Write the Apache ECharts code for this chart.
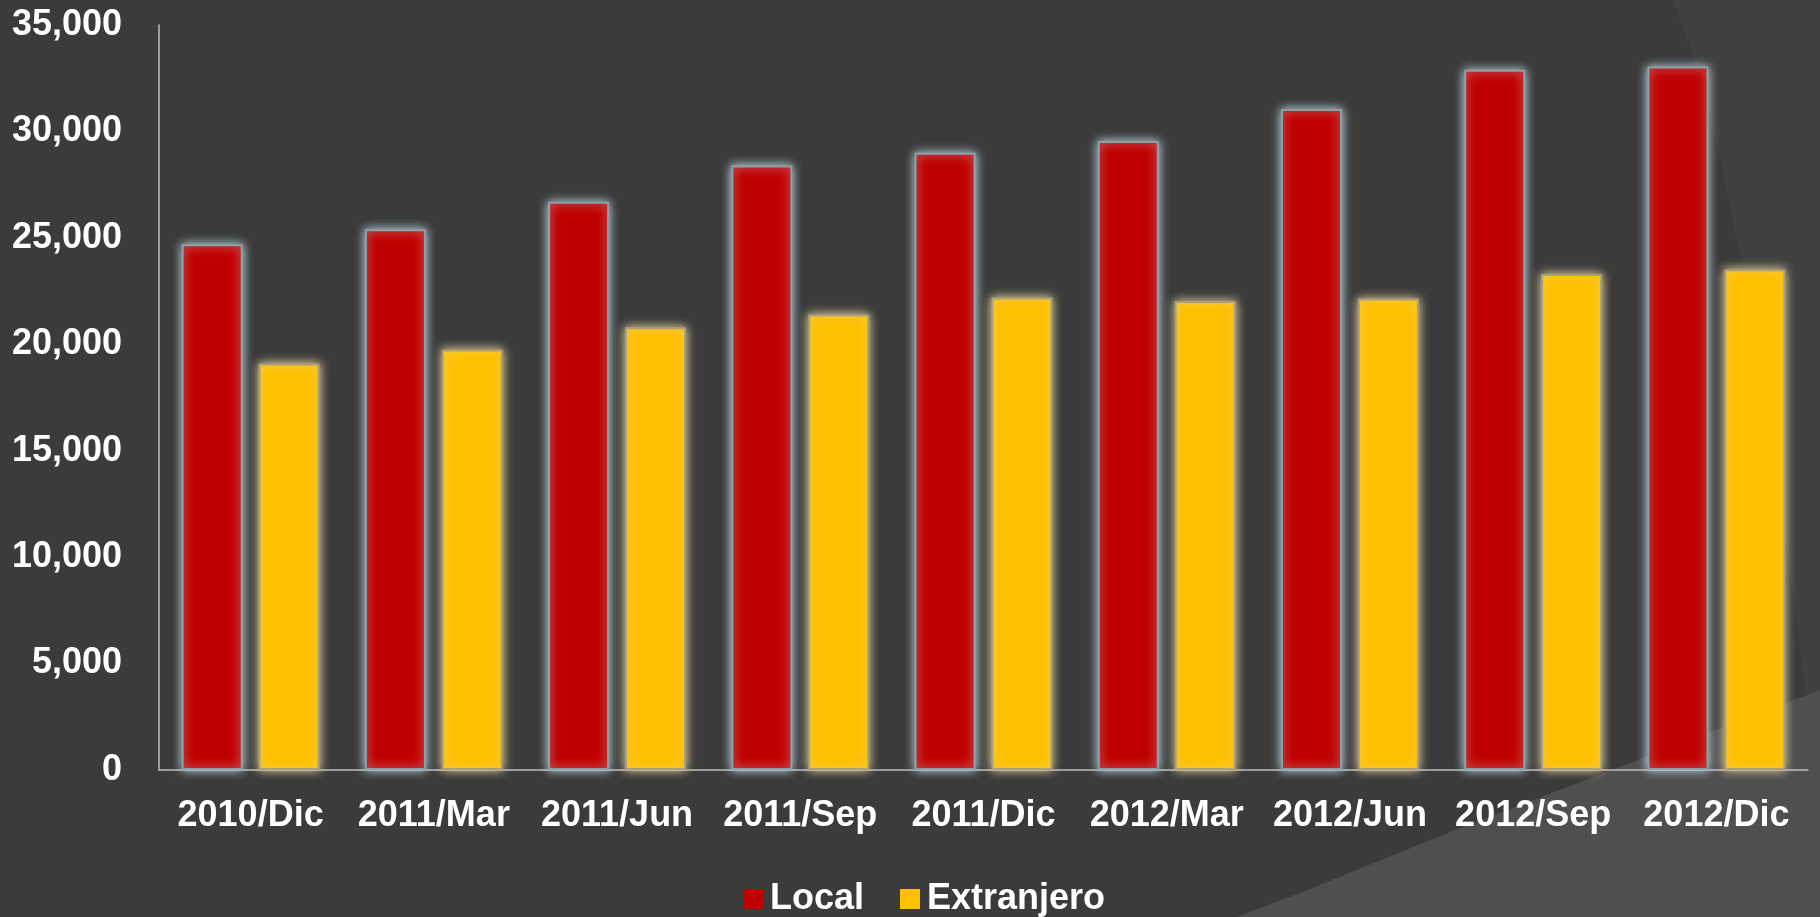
<!DOCTYPE html>
<html>
<head>
<meta charset="utf-8">
<title>Local vs Extranjero</title>
<script src="https://cdn.jsdelivr.net/npm/echarts@6/dist/echarts.min.js"></script>
<style>
    html, body { margin: 0; padding: 0; background: #3b3b3b; }
    #chartBox { width: 1820px; height: 917px; }
</style>
</head>
<body>
<div id="chartBox"></div>
<script>
// data
var categories = ['2010/Dic', '2011/Mar', '2011/Jun', '2011/Sep', '2011/Dic', '2012/Mar', '2012/Jun', '2012/Sep', '2012/Dic'];
var localValues = [24700, 25400, 26700, 28400, 29000, 29550, 31050, 32900, 33050];
var extranjeroValues = [19100, 19760, 20800, 21400, 22200, 22030, 22150, 23300, 23520];
var seriesNames = ['Local', 'Extranjero'];

var colors = ['#c00000', '#ffc000'];
var font = 'Liberation Sans, Arial, sans-serif';

var myChart = echarts.init(document.getElementById('chartBox'));

var option = {
    backgroundColor: '#3b3b3b',
    color: colors,
    animation: false,
    // slide theme decoration behind the chart
    graphic: [
        {
            type: 'polygon',
            z: -10,
            shape: { points: [[1673, 0], [1697, 67], [1720, 160], [1743, 267], [1770, 420], [1800, 650], [1820, 800], [1820, 0]] },
            style: { fill: '#414141' }
        },
        {
            type: 'polygon',
            z: -10,
            shape: { points: [[1237, 917], [1300, 893], [1450, 832], [1604, 773], [1820, 690], [1820, 917]] },
            style: { fill: '#4f4f4f' }
        }
    ],
    grid: {
        left: 159,
        right: 12,
        top: 25,
        bottom: 147
    },
    legend: {
        data: seriesNames,
        left: 738,
        top: 876,
        itemWidth: 20,
        itemHeight: 20,
        itemGap: 36,
        icon: 'rect',
        itemStyle: { borderWidth: 0, shadowBlur: 0 },
        textStyle: {
            color: '#ffffff',
            fontSize: 36,
            fontWeight: 'bold',
            fontFamily: font,
            padding: [0, 0, 0, 2]
        }
    },
    xAxis: {
        type: 'category',
        data: categories,
        axisLine: { lineStyle: { color: '#bfbfbf', width: 1.5 } },
        axisTick: { show: false },
        axisLabel: {
            color: '#ffffff',
            fontSize: 36,
            fontWeight: 'bold',
            fontFamily: font,
            margin: 28,
            interval: 0
        }
    },
    yAxis: {
        type: 'value',
        min: 0,
        max: 35000,
        interval: 5000,
        splitLine: { show: false },
        axisLine: { show: true, lineStyle: { color: '#bfbfbf', width: 1.5 } },
        axisTick: { show: false },
        axisLabel: {
            color: '#ffffff',
            fontSize: 36,
            fontWeight: 'bold',
            fontFamily: font,
            margin: 37,
            formatter: function (v) {
                return v.toLocaleString('en-US');
            }
        }
    },
    series: [
        {
            name: seriesNames[0],
            type: 'bar',
            data: localValues,
            barWidth: 61,
            barGap: '26%',
            itemStyle: {
                color: colors[0],
                borderWidth: 2,
                borderColor: 'rgb(140,160,168)',
                shadowBlur: 10,
                shadowColor: 'rgb(195,220,230)'
            }
        },
        {
            name: seriesNames[1],
            type: 'bar',
            data: extranjeroValues,
            barWidth: 61,
            itemStyle: {
                color: colors[1],
                borderWidth: 2,
                borderColor: 'rgb(170,160,125)',
                shadowBlur: 10,
                shadowColor: 'rgb(230,215,160)'
            }
        }
    ]
};

myChart.setOption(option);
</script>
</body>
</html>
